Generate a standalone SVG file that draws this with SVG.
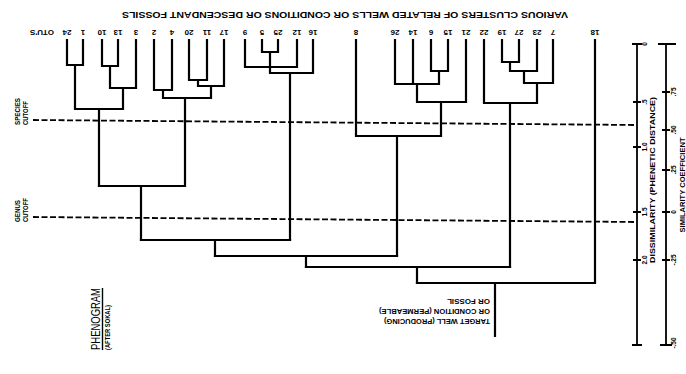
<svg xmlns="http://www.w3.org/2000/svg" width="686" height="374" viewBox="0 0 686 374">
<style>
.ln{stroke:#000;stroke-width:2.2;fill:none;stroke-linecap:square;stroke-linejoin:miter}
.ax{stroke:#000;stroke-width:1.8;fill:none}
.cut{stroke:#000;stroke-width:1.8;stroke-dasharray:6 2.5;fill:none}
.t{font-family:"Liberation Sans",Arial,sans-serif;font-weight:bold;fill:#000}
.lf{font-size:8px;text-anchor:middle}
.sm{font-size:6.5px;text-anchor:middle}
</style>
<rect width="686" height="374" fill="#fff"/>

<g id="header">
<text class="t" x="345" y="18.3" font-size="9" text-anchor="middle" textLength="446" lengthAdjust="spacingAndGlyphs" transform="rotate(180 345 15)">VARIOUS CLUSTERS OF RELATED WELLS OR CONDITIONS OR DESCENDANT FOSSILS</text>
</g>
<g id="otus-title"><text class="t lf" x="42" y="35.9" transform="rotate(180 42 33)">OTU'S</text></g>

<g id="leaf-labels">
<g id="otu-24"><text class="t lf" x="67" y="35.9" transform="rotate(180 67 33)">24</text></g>
<g id="otu-1"><text class="t lf" x="83" y="35.9" transform="rotate(180 83 33)">1</text></g>
<g id="otu-10"><text class="t lf" x="102" y="35.9" transform="rotate(180 102 33)">10</text></g>
<g id="otu-13"><text class="t lf" x="118" y="35.9" transform="rotate(180 118 33)">13</text></g>
<g id="otu-3"><text class="t lf" x="136" y="35.9" transform="rotate(180 136 33)">3</text></g>
<g id="otu-2"><text class="t lf" x="154" y="35.9" transform="rotate(180 154 33)">2</text></g>
<g id="otu-4"><text class="t lf" x="172" y="35.9" transform="rotate(180 172 33)">4</text></g>
<g id="otu-20"><text class="t lf" x="189" y="35.9" transform="rotate(180 189 33)">20</text></g>
<g id="otu-11"><text class="t lf" x="207" y="35.9" transform="rotate(180 207 33)">11</text></g>
<g id="otu-17"><text class="t lf" x="224" y="35.9" transform="rotate(180 224 33)">17</text></g>
<g id="otu-9"><text class="t lf" x="245" y="35.9" transform="rotate(180 245 33)">9</text></g>
<g id="otu-5"><text class="t lf" x="262" y="35.9" transform="rotate(180 262 33)">5</text></g>
<g id="otu-25"><text class="t lf" x="278" y="35.9" transform="rotate(180 278 33)">25</text></g>
<g id="otu-12"><text class="t lf" x="297" y="35.9" transform="rotate(180 297 33)">12</text></g>
<g id="otu-16"><text class="t lf" x="313" y="35.9" transform="rotate(180 313 33)">16</text></g>
<g id="otu-8"><text class="t lf" x="356" y="35.9" transform="rotate(180 356 33)">8</text></g>
<g id="otu-26"><text class="t lf" x="395" y="35.9" transform="rotate(180 395 33)">26</text></g>
<g id="otu-14"><text class="t lf" x="413" y="35.9" transform="rotate(180 413 33)">14</text></g>
<g id="otu-6"><text class="t lf" x="431" y="35.9" transform="rotate(180 431 33)">6</text></g>
<g id="otu-15"><text class="t lf" x="448" y="35.9" transform="rotate(180 448 33)">15</text></g>
<g id="otu-21"><text class="t lf" x="466" y="35.9" transform="rotate(180 466 33)">21</text></g>
<g id="otu-22"><text class="t lf" x="484" y="35.9" transform="rotate(180 484 33)">22</text></g>
<g id="otu-19"><text class="t lf" x="502" y="35.9" transform="rotate(180 502 33)">19</text></g>
<g id="otu-27"><text class="t lf" x="519" y="35.9" transform="rotate(180 519 33)">27</text></g>
<g id="otu-23"><text class="t lf" x="537" y="35.9" transform="rotate(180 537 33)">23</text></g>
<g id="otu-7"><text class="t lf" x="553" y="35.9" transform="rotate(180 553 33)">7</text></g>
<g id="otu-18"><text class="t lf" x="595" y="35.9" transform="rotate(180 595 33)">18</text></g>
</g>

<g id="connectors">
<path class="ln" d="M67 40V65H83V40 M75 65V109 M102 40V66H118V40 M110 66V88H136V40 M123 88V109 M75 109H123 M99 109V186"/>
<path class="ln" d="M154 40V90H172V40 M163 90V98 M189 40V80H207V40 M198 80V86H224V40 M211 86V98 M163 98H211 M185 98V186 M99 186H185 M141 186V240"/>
<path class="ln" d="M245 40V67H297V40 M262 40V52H278V40 M270 52V73H313V40 M290 73V240"/>
<path class="ln" d="M141 240H290 M215 240V256"/>
<path class="ln" d="M356 40V136 M395 40V84H439 M413 40V84 M431 40V71H448V40 M439 71V84 M417 84V102H466V40 M441 102V136 M356 136H441 M397 136V256"/>
<path class="ln" d="M215 256H397 M306 256V267"/>
<path class="ln" d="M484 40V103H537 M502 40V62H519V40 M510 62V71H537V40 M524 71V83H553V40 M537 83V103 M510 103V267"/>
<path class="ln" d="M306 267H510 M417 267V283"/>
<path class="ln" d="M595 40V283H417 M495 283V336"/>
</g>

<g id="cutoffs">
<path class="cut" d="M33 120L636 125"/>
<path class="cut" d="M33 217L636 222"/>
</g>
<g id="species-cutoff">
<text class="t" font-size="6.5" x="17.5" y="127" transform="rotate(-90 17.5 125)" textLength="27" lengthAdjust="spacingAndGlyphs">SPECIES</text>
<text class="t" font-size="6.5" x="25.5" y="127" transform="rotate(-90 25.5 125)" textLength="24" lengthAdjust="spacingAndGlyphs">CUTOFF</text>
</g>
<g id="genus-cutoff">
<text class="t" font-size="6.5" x="17.5" y="224" transform="rotate(-90 17.5 222)" textLength="22" lengthAdjust="spacingAndGlyphs">GENUS</text>
<text class="t" font-size="6.5" x="25.5" y="224" transform="rotate(-90 25.5 222)" textLength="24" lengthAdjust="spacingAndGlyphs">CUTOFF</text>
</g>

<g id="title">
<text class="t" style="font-weight:normal" font-size="13" x="100" y="350" transform="rotate(-90 100 350)" textLength="62" lengthAdjust="spacingAndGlyphs">PHENOGRAM</text>
<line x1="102.5" y1="350" x2="102.5" y2="288" stroke="#000" stroke-width="1.4"/>
<text class="t" font-size="6.5" x="110" y="350" transform="rotate(-90 110 350)" textLength="45" lengthAdjust="spacingAndGlyphs">(AFTER SOKAL)</text>
</g>

<g id="target-well">
<g transform="rotate(180 490 311)">
<text class="t" font-size="7.5" x="490" y="302.7" textLength="106" lengthAdjust="spacingAndGlyphs">TARGET WELL (PRODUCING)</text>
<text class="t" font-size="7.5" x="490" y="312.7" textLength="111" lengthAdjust="spacingAndGlyphs">OR CONDITION (PERMEABLE)</text>
<text class="t" font-size="7.5" x="490" y="322.7" textLength="43" lengthAdjust="spacingAndGlyphs">OR FOSSIL</text>
</g>
</g>

<g id="dissimilarity-axis">
<path class="ax" d="M637 44V345 M632 44H642 M633 102H641 M633 147H641 M633 212H641 M633 260H641 M632 345H642"/>
<text class="t sm" x="645" y="46.3" transform="rotate(-90 645 44)">0</text>
<text class="t sm" x="645" y="104.3" transform="rotate(-90 645 102)">.5</text>
<text class="t sm" x="645" y="149.3" transform="rotate(-90 645 147)">1.0</text>
<text class="t sm" x="645" y="214.3" transform="rotate(-90 645 212)">1.5</text>
<text class="t sm" x="645" y="262.3" transform="rotate(-90 645 260)">2.0</text>
<text class="t" font-size="7" x="652.5" y="182.5" text-anchor="middle" transform="rotate(-90 652.5 180)" textLength="166" lengthAdjust="spacingAndGlyphs">DISSIMILARITY (PHENETIC DISTANCE)</text>
</g>
<g id="similarity-axis">
<path class="ax" d="M666 44V345 M658 44H676 M662 92H670 M662 130H670 M662 170H670 M662 212H670 M662 260H670 M660 345H672"/>
<text class="t sm" x="674" y="94.3" transform="rotate(-90 674 92)">.75</text>
<text class="t sm" x="674" y="132.3" transform="rotate(-90 674 130)">.50</text>
<text class="t sm" x="674" y="172.3" transform="rotate(-90 674 170)">.25</text>
<text class="t sm" x="674" y="214.3" transform="rotate(-90 674 212)">0</text>
<text class="t sm" x="674" y="262.3" transform="rotate(-90 674 260)">-.25</text>
<text class="t sm" x="674" y="345.3" transform="rotate(-90 674 343)">-.50</text>
<text class="t" font-size="7" x="682" y="187.5" text-anchor="middle" transform="rotate(-90 682 185)" textLength="95" lengthAdjust="spacingAndGlyphs">SIMILARITY COEFFICIENT</text>
</g>
</svg>
